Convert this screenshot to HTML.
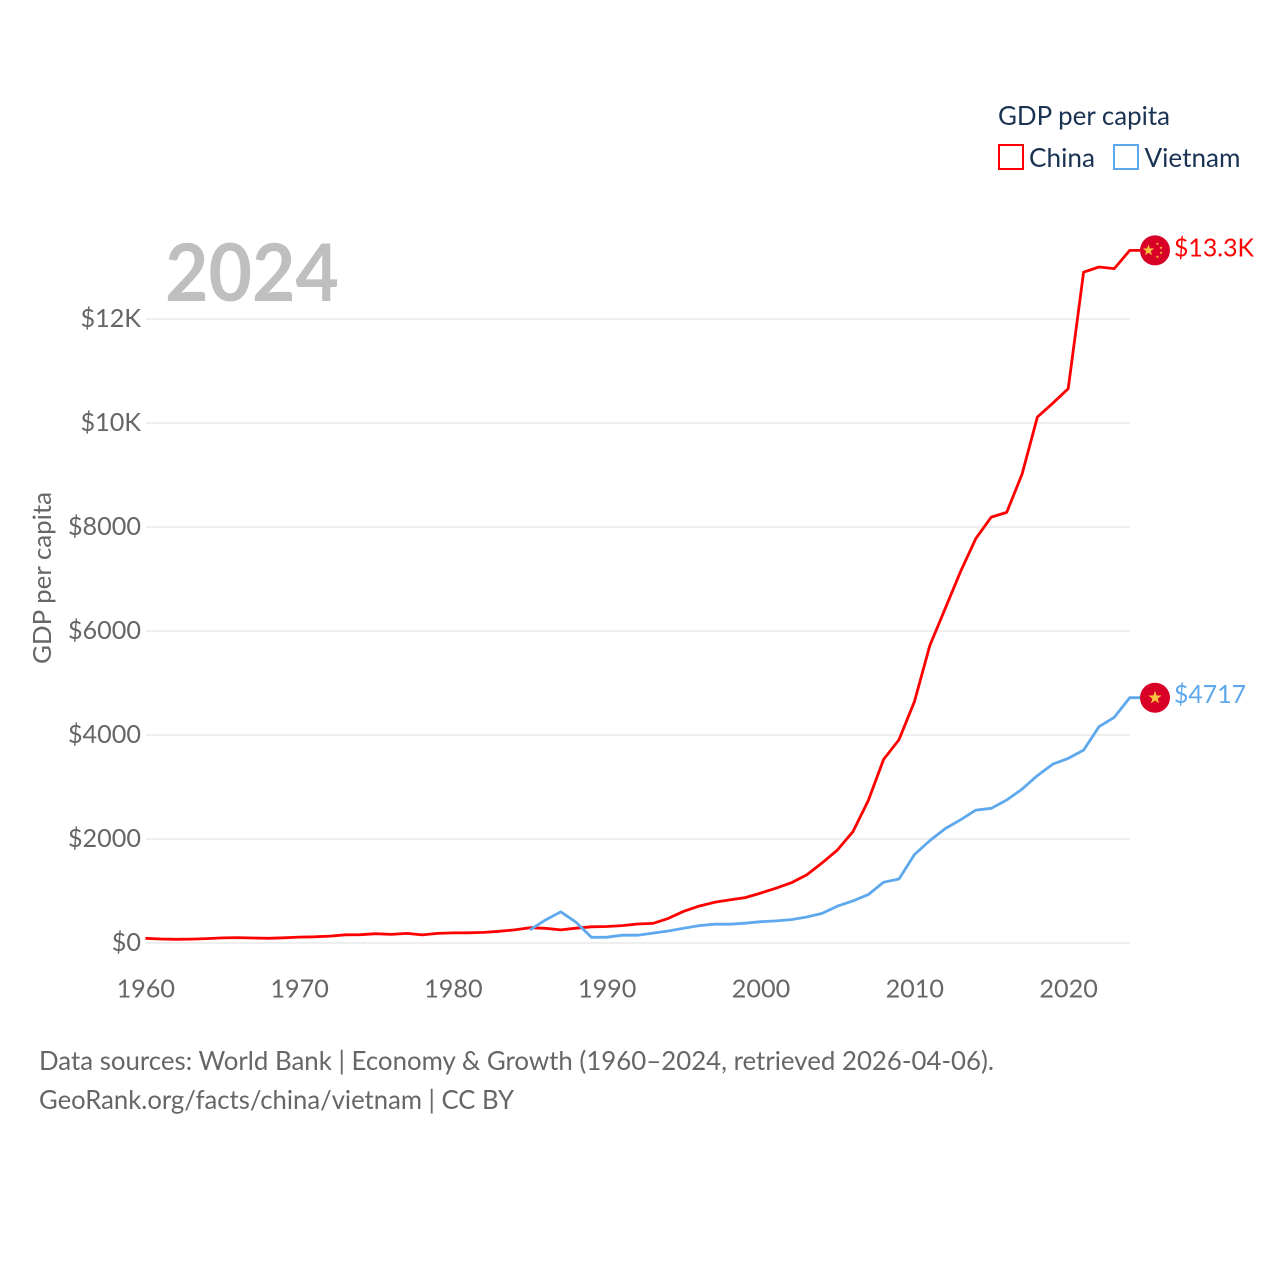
<!DOCTYPE html>
<html lang="en">
<head>
<meta charset="utf-8">
<title>GDP per capita: China and Vietnam</title>
<style>
html,body{margin:0;padding:0;background:#fff;width:1280px;height:1280px;overflow:hidden}
svg{display:block}
text{font-family:"Lato","Carlito","Liberation Sans",sans-serif}
</style>
</head>
<body>
<svg id="chart" width="1280" height="1280" viewBox="0 0 1280 1280" xmlns="http://www.w3.org/2000/svg">
  <rect width="1280" height="1280" fill="#ffffff"/>
  <g id="grid"></g>
  <g id="yticks"></g>
  <g id="xticks"></g>
  <text x="165" y="301" font-size="80" font-weight="700" fill="#bfbfbf" textLength="174" lengthAdjust="spacingAndGlyphs">2024</text>
  <text transform="translate(51,664) rotate(-90)" font-size="25" fill="#666666" textLength="172" lengthAdjust="spacingAndGlyphs">GDP per capita</text>
  <g id="series"></g>
  <g id="ends"></g>
  <g>
    <text x="998" y="125" font-size="26" fill="#1a3353" textLength="172" lengthAdjust="spacingAndGlyphs">GDP per capita</text>
    <rect x="999" y="145" width="24" height="24" fill="none" stroke="#ff0000" stroke-width="2"/>
    <text x="1029" y="167" font-size="26" fill="#1a3353" textLength="66" lengthAdjust="spacingAndGlyphs">China</text>
    <rect x="1114" y="145" width="24" height="24" fill="none" stroke="#5ea8ee" stroke-width="2"/>
    <text x="1144.5" y="167" font-size="26" fill="#1a3353" textLength="96" lengthAdjust="spacingAndGlyphs">Vietnam</text>
  </g>
  <text x="39" y="1070" font-size="26" fill="#666666" textLength="955" lengthAdjust="spacingAndGlyphs">Data sources: World Bank | Economy &amp; Growth (1960–2024, retrieved 2026-04-06).</text>
  <text x="39" y="1109" font-size="26" fill="#666666" textLength="475" lengthAdjust="spacingAndGlyphs">GeoRank.org/facts/china/vietnam | CC BY</text>
</svg>
<script>
const yTickValues = [0, 2000, 4000, 6000, 8000, 10000, 12000];
const yTickLabels = ['$0', '$2000', '$4000', '$6000', '$8000', '$10K', '$12K'];
const xTickYears = [1960, 1970, 1980, 1990, 2000, 2010, 2020];
const chinaStartYear = 1960;
const chinaValues = [90, 76, 72, 75, 85, 98, 104, 97, 91, 100, 113, 119, 132, 157, 160, 178, 165, 185, 156, 184, 195, 197, 203, 225, 251, 294, 282, 252, 284, 311, 318, 334, 366, 377, 473, 610, 709, 782, 829, 873, 959, 1053, 1160, 1310, 1540, 1790, 2140, 2740, 3530, 3910, 4640, 5720, 6430, 7140, 7780, 8190, 8280, 9020, 10115, 10380, 10660, 12900, 13000, 12970, 13320];
const vietnamStartYear = 1985;
const vietnamValues = [250, 440, 600, 400, 110, 112, 150, 150, 190, 230, 285, 335, 362, 362, 380, 410, 425, 450, 500, 570, 710, 810, 930, 1170, 1230, 1700, 1970, 2200, 2370, 2555, 2590, 2750, 2960, 3220, 3440, 3550, 3710, 4160, 4340, 4717];
const endLabels = ['$13.3K', '$4717'];

const NS = 'http://www.w3.org/2000/svg';
const xScale = year => 145.4 + (year - 1960) * 15.38;
const yScale = value => 943 - value * 0.052;
const make = (tag, parent) => {
  const el = document.createElementNS(NS, tag);
  document.getElementById(parent).appendChild(el);
  return el;
};

yTickValues.forEach((value, i) => {
  const line = make('line', 'grid');
  
  
  line.setAttribute('x1', 146);
  line.setAttribute('x2', 1130);
  line.setAttribute('y1', yScale(value));
  line.setAttribute('y2', yScale(value));
  line.setAttribute('stroke', '#eeeeee');
  line.setAttribute('stroke-width', 2);
  const label = make('text', 'yticks');
  
  
  label.setAttribute('x', 141);
  label.setAttribute('y', yScale(value) + 8);
  label.setAttribute('text-anchor', 'end');
  label.setAttribute('font-size', 25.2);
  label.setAttribute('fill', '#666666');
  label.textContent = yTickLabels[i];
});

xTickYears.forEach(year => {
  const label = make('text', 'xticks');
  
  
  label.setAttribute('x', xScale(year) + 0.4);
  label.setAttribute('y', 997.5);
  label.setAttribute('text-anchor', 'middle');
  label.setAttribute('font-size', 25.2);
  label.setAttribute('fill', '#666666');
  label.textContent = year;
});

function pathFor(values, startYear) {
  const pts = values.map((v, i) => xScale(startYear + i).toFixed(1) + ',' + yScale(v).toFixed(1));
  pts.push('1140,' + yScale(values[values.length - 1]).toFixed(1));
  return 'M' + pts.join('L');
}

const chinaLine = make('path', 'series');


chinaLine.setAttribute('d', pathFor(chinaValues, chinaStartYear));
chinaLine.setAttribute('fill', 'none');
chinaLine.setAttribute('stroke', '#ff0000');
chinaLine.setAttribute('stroke-width', 2.8);
chinaLine.setAttribute('stroke-linejoin', 'round');

const vietnamLine = make('path', 'series');


vietnamLine.setAttribute('d', pathFor(vietnamValues, vietnamStartYear));
vietnamLine.setAttribute('fill', 'none');
vietnamLine.setAttribute('stroke', '#5ea8ee');
vietnamLine.setAttribute('stroke-width', 2.8);
vietnamLine.setAttribute('stroke-linejoin', 'round');

function starPoints(cx, cy, r) {
  const out = [];
  for (let i = 0; i < 10; i++) {
    const a = -Math.PI / 2 + i * Math.PI / 5;
    const rad = i % 2 ? r * 0.4 : r;
    out.push((cx + rad * Math.cos(a)).toFixed(2) + ',' + (cy + rad * Math.sin(a)).toFixed(2));
  }
  return out.join(' ');
}

function addStar(cx, cy, r) {
  const star = make('polygon', 'ends');
  
  
  star.setAttribute('points', starPoints(cx, cy, r));
  star.setAttribute('fill', '#f9c33f');
}

const chinaEndY = yScale(chinaValues[chinaValues.length - 1]);
const chinaFlag = make('circle', 'ends');


chinaFlag.setAttribute('cx', 1155);
chinaFlag.setAttribute('cy', chinaEndY);
chinaFlag.setAttribute('r', 15);
chinaFlag.setAttribute('fill', '#d80027');
addStar(1148.5, chinaEndY, 6);
addStar(1157.5, chinaEndY - 6.5, 1.7);
addStar(1161, chinaEndY - 2.5, 1.7);
addStar(1161, chinaEndY + 2.5, 1.7);
addStar(1157.5, chinaEndY + 6.5, 1.7);

const vietnamEndY = yScale(vietnamValues[vietnamValues.length - 1]);
const vietnamFlag = make('circle', 'ends');


vietnamFlag.setAttribute('cx', 1155);
vietnamFlag.setAttribute('cy', vietnamEndY);
vietnamFlag.setAttribute('r', 15);
vietnamFlag.setAttribute('fill', '#d80027');
addStar(1155, vietnamEndY, 7);

const chinaEndLabel = make('text', 'ends');


chinaEndLabel.setAttribute('x', 1174);
chinaEndLabel.setAttribute('y', chinaEndY + 6);
chinaEndLabel.setAttribute('font-size', 25.5);
chinaEndLabel.setAttribute('fill', '#ff0000');
chinaEndLabel.setAttribute('textLength', 80);
chinaEndLabel.setAttribute('lengthAdjust', 'spacingAndGlyphs');
chinaEndLabel.textContent = endLabels[0];

const vietnamEndLabel = make('text', 'ends');


vietnamEndLabel.setAttribute('x', 1174);
vietnamEndLabel.setAttribute('y', vietnamEndY + 5.5);
vietnamEndLabel.setAttribute('font-size', 25.5);
vietnamEndLabel.setAttribute('fill', '#5ea8ee');
vietnamEndLabel.setAttribute('textLength', 72);
vietnamEndLabel.setAttribute('lengthAdjust', 'spacingAndGlyphs');
vietnamEndLabel.textContent = endLabels[1];
</script>
</body>
</html>
